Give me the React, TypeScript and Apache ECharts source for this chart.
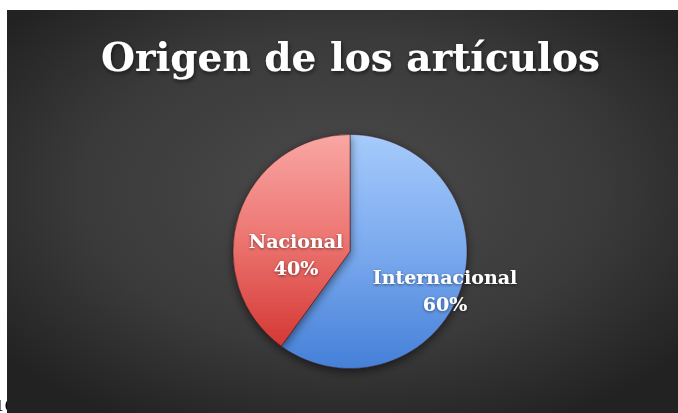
import React, { useEffect, useRef } from "react";
import * as echarts from "echarts";

const title = "Origen de los artículos";
const categories = ["Internacional", "Nacional"];
const values = [60, 40];

export default function App() {
  const ref = useRef<HTMLDivElement>(null);
  useEffect(() => {
    if (!ref.current) return;
    const chart = echarts.init(ref.current, null, { renderer: "svg" });
    const gradients = [
      new echarts.graphic.LinearGradient(0, 0, 0, 1, [
        { offset: 0, color: "#a6cbfb" },
        { offset: 0.5, color: "#7aa9ee" },
        { offset: 1, color: "#4580d8" },
      ]),
      new echarts.graphic.LinearGradient(0, 0, 0, 1, [
        { offset: 0, color: "#f9a7a4" },
        { offset: 0.5, color: "#ec7470" },
        { offset: 1, color: "#d43834" },
      ]),
    ];
    const labelPos = [
      [445, 290],
      [296, 254],
    ];
    chart.setOption({
      animation: false,
      graphic: [
        {
          type: "text",
          left: -5,
          top: 398,
          z: 0,
          style: { text: "10", fill: "#000", font: "15px 'DejaVu Serif'" },
        },
        {
          type: "rect",
          shape: { x: 7, y: 10, width: 671, height: 403 },
          z: 1,
          silent: true,
          style: {
            fill: new echarts.graphic.RadialGradient(0.5, 0.45, 0.65, [
              { offset: 0, color: "#4b4b4b" },
              { offset: 0.6, color: "#3a3a3a" },
              { offset: 1, color: "#222222" },
            ]),
          },
        },
      ],
      title: {
        text: title,
        left: 96,
        top: 32,
        z: 10,
        textStyle: {
          color: "#ffffff",
          fontFamily: "'DejaVu Serif'",
          fontWeight: "bold",
          fontSize: 39,
          textShadowColor: "rgba(0,0,0,0.6)",
          textShadowBlur: 4,
          textShadowOffsetX: 1,
          textShadowOffsetY: 2,
        },
      },
      series: [
        {
          type: "pie",
          z: 5,
          center: [350, 251.5],
          radius: 117,
          startAngle: 90,
          clockwise: true,
          data: categories.map((c, i) => ({
            name: c,
            value: values[i],
            itemStyle: { color: gradients[i] },
          })),
          itemStyle: {
            borderColor: "rgba(60,20,20,0.45)",
            borderWidth: 1,
            shadowBlur: 10,
            shadowColor: "rgba(0,0,0,0.55)",
            shadowOffsetY: 3,
          },
          label: {
            show: true,
            position: "inside",
            formatter: "{b}\n{d}%",
            color: "#ffffff",
            fontFamily: "'DejaVu Serif'",
            fontWeight: "bold",
            fontSize: 19,
            lineHeight: 27,
            align: "center",
            textShadowColor: "rgba(0,0,0,0.5)",
            textShadowBlur: 3,
            textShadowOffsetY: 1,
          },
          labelLayout: (params: any) => ({
            x: labelPos[params.dataIndex][0],
            y: labelPos[params.dataIndex][1],
            align: "center",
            verticalAlign: "middle",
          }),
          labelLine: { show: false },
          emphasis: { disabled: true },
        },
      ],
    });
    return () => chart.dispose();
  }, []);
  return (
    <div
      ref={ref}
      style={{ position: "fixed", left: 0, top: 0, width: 678, height: 413 }}
    />
  );
}
